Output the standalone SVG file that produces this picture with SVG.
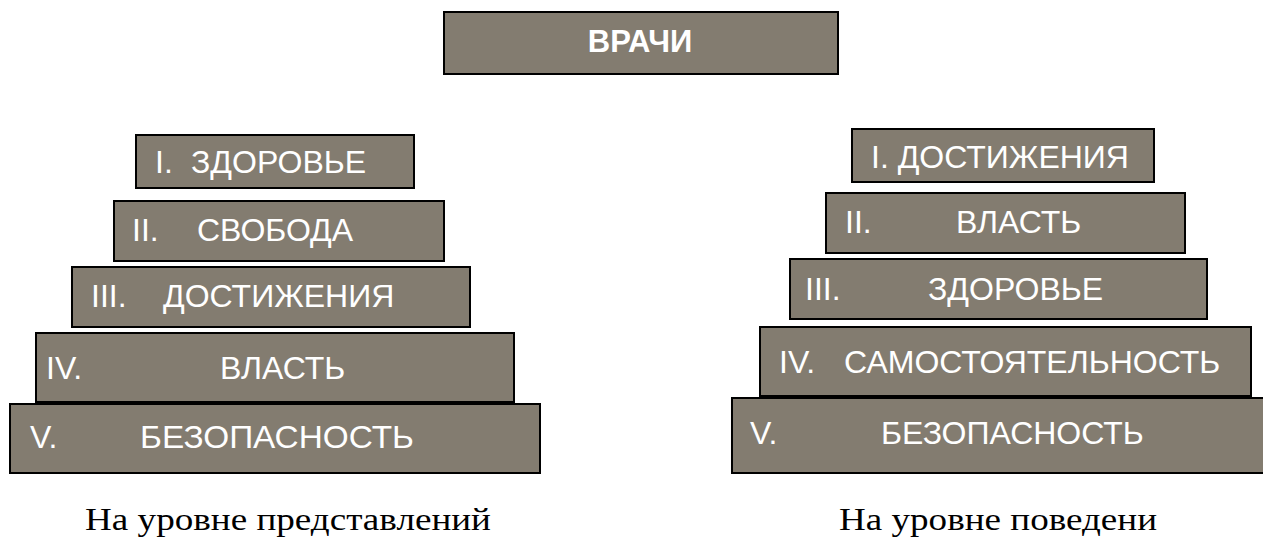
<svg xmlns="http://www.w3.org/2000/svg" width="1263" height="540" viewBox="0 0 1263 540">
<style>
.box{fill:#837c70;stroke:#000;stroke-width:2}
.t{font-family:"Liberation Sans",Arial,sans-serif;font-size:32px;fill:#fff}
.b{font-weight:bold;font-size:31px}
.cap{font-family:"Liberation Serif","Times New Roman",serif;font-size:31px;fill:#000}
</style>
<rect width="1263" height="540" fill="#fff"/>
<g id="top">
<rect class="box" x="444" y="12" width="394" height="62"/>
<text class="t b" x="640" y="52" text-anchor="middle">ВРАЧИ</text>
</g>
<g id="left-pyramid">
<g id="L1"><rect class="box" x="136" y="135" width="278" height="53"/>
<text class="t" x="155" y="173">I.</text><text class="t" x="191" y="173">ЗДОРОВЬЕ</text></g>
<g id="L2"><rect class="box" x="114" y="201" width="330" height="60"/>
<text class="t" x="132" y="241">II.</text><text class="t" x="197" y="241">СВОБОДА</text></g>
<g id="L3"><rect class="box" x="72" y="267" width="398" height="60"/>
<text class="t" x="91" y="307">III.</text><text class="t" x="163" y="307">ДОСТИЖЕНИЯ</text></g>
<g id="L4"><rect class="box" x="36" y="333" width="478" height="69"/>
<text class="t" x="46" y="379">IV.</text><text class="t" x="220" y="379">ВЛАСТЬ</text></g>
<g id="L5"><rect class="box" x="10" y="404" width="530" height="69"/>
<text class="t" x="30" y="448">V.</text><text class="t" x="140" y="448" textLength="274" lengthAdjust="spacingAndGlyphs">БЕЗОПАСНОСТЬ</text></g>
</g>
<g id="right-pyramid">
<g id="R1"><rect class="box" x="852" y="129" width="302" height="53"/>
<text class="t" x="871" y="168">I. ДОСТИЖЕНИЯ</text></g>
<g id="R2"><rect class="box" x="826" y="193" width="359" height="60"/>
<text class="t" x="845" y="233">II.</text><text class="t" x="956" y="233">ВЛАСТЬ</text></g>
<g id="R3"><rect class="box" x="790" y="259" width="417" height="60"/>
<text class="t" x="805" y="300">III.</text><text class="t" x="928" y="300">ЗДОРОВЬЕ</text></g>
<g id="R4"><rect class="box" x="760" y="327" width="491" height="69"/>
<text class="t" x="779" y="373">IV.</text><text class="t" x="844" y="373">САМОСТОЯТЕЛЬНОСТЬ</text></g>
<g id="R5"><rect class="box" x="732" y="398" width="545" height="75"/>
<text class="t" x="750" y="444">V.</text><text class="t" x="881" y="444">БЕЗОПАСНОСТЬ</text></g>
</g>
<g id="captions">
<text class="cap" x="85" y="530" textLength="406" lengthAdjust="spacingAndGlyphs">На уровне представлений</text>
<text class="cap" x="839" y="530" textLength="318" lengthAdjust="spacingAndGlyphs">На уровне поведени</text>
</g>
<g id="connectors"/>
</svg>
